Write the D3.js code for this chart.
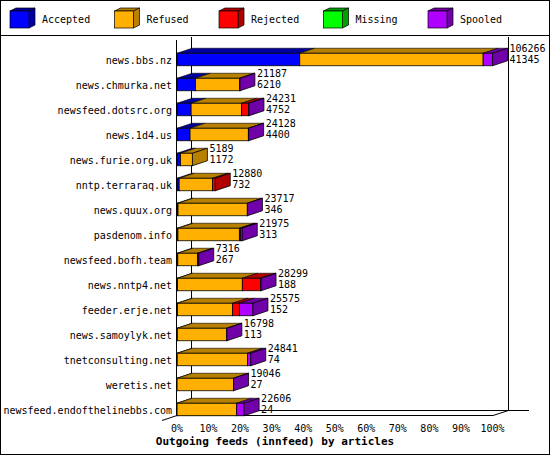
<!DOCTYPE html>
<html><head><meta charset="utf-8">
<script src="https://cdn.jsdelivr.net/npm/d3@7"></script>
<style>body{margin:0;background:#fff}text{font-family:"DejaVu Sans Mono",monospace;font-size:10px}</style>
</head><body><svg id="c" width="550" height="455"></svg>
<script>
const hosts=["news.bbs.nz","news.chmurka.net","newsfeed.dotsrc.org","news.1d4.us","news.furie.org.uk","nntp.terraraq.uk","news.quux.org","pasdenom.info","newsfeed.bofh.team","news.nntp4.net","feeder.erje.net","news.samoylyk.net","tnetconsulting.net","weretis.net","newsfeed.endofthelinebbs.com"];
const offered=[106266,21187,24231,24128,5189,12880,23717,21975,7316,28299,25575,16798,24841,19046,22606];
const accepted=[41345,6210,4752,4400,1172,732,346,313,267,188,152,113,74,27,24];
const refused=[61770,14927,17028,19628,4017,11258,23341,20690,6600,21810,18600,16655,23650,19000,20076];
const rejected=[0,0,2360,0,0,890,0,350,0,6180,2250,0,0,0,0];
const missing=[0,0,0,0,0,0,0,0,0,0,0,0,0,0,0];
const spooled=[3151,50,91,100,0,0,30,622,449,121,4573,30,1117,19,2506];
const seriesNames=["Accepted","Refused","Rejected","Missing","Spooled"];
const ticks=[0,10,20,30,40,50,60,70,80,90,100];
const fronts=["#0000ff","#ffb000","#ff0000","#00ff00","#b000ff"];
const darks=["#0000a0","#b88000","#b00000","#00a000","#7000a8"];
const series=[accepted,refused,rejected,missing,spooled];
const svg=d3.select("#c");
const DX=15,DY=5;
svg.append("rect").attr("x",0.5).attr("y",0.5).attr("width",549).attr("height",454).attr("fill","#fff").attr("stroke","#000");
svg.append("line").attr("x1",0).attr("x2",550).attr("y1",35.5).attr("y2",35.5).attr("stroke","#000");
seriesNames.forEach((n,i)=>{
  const x=10+i*104.5,y=11,w=19,h=17;
  const g=svg.append("g");
  g.append("path").attr("d",`M${x},${y}L${x+6},${y-3}L${x+w+6},${y-3}L${x+w},${y}Z`).attr("fill",darks[i]).attr("stroke","#000").attr("stroke-width",0.7);
  g.append("path").attr("d",`M${x+w},${y}L${x+w+6},${y-3}L${x+w+6},${y+h-3}L${x+w},${y+h}Z`).attr("fill",darks[i]).attr("stroke","#000").attr("stroke-width",0.7);
  g.append("rect").attr("x",x).attr("y",y).attr("width",w).attr("height",h).attr("fill",fronts[i]).attr("stroke","#000").attr("stroke-width",0.7);
  svg.append("text").attr("x",42+i*104.5).attr("y",23).text(n);
});
const maxV=d3.max(offered);
const x=d3.scaleLinear().domain([0,maxV]).range([177,492.5]);
const y=d3.scaleBand().domain(hosts).range([47,422]).paddingInner(0.5).paddingOuter(0.25);
const ax=svg.append("g").attr("stroke","#000").attr("fill","none");
ax.append("path").attr("d",`M191.5,37V410.5H529M508.5,37V410.5M493,415.5L508.5,410.5M162,420.5L177,415.5M176.5,40V415.5H493`);
svg.append("g").selectAll("text").data(ticks).join("text")
  .attr("x",d=>x(d/100*maxV)).attr("y",432).attr("text-anchor","middle").text(d=>d+"%");
svg.append("text").attr("x",275).attr("y",445).attr("text-anchor","middle").attr("font-weight","bold").style("font-size","11px").text("Outgoing feeds (innfeed) by articles");
hosts.forEach((h,r)=>{
  const y0=y(h),bh=y.bandwidth();
  let cum=0,last=0;
  const g=svg.append("g");
  series.forEach((s,k)=>{
    const v=s[r]; if(v<=0)return;
    const x0=x(cum),x1=x(cum+v);
    g.append("path").attr("d",`M${x0},${y0}L${x0+DX},${y0-DY}L${x1+DX},${y0-DY}L${x1},${y0}Z`).attr("fill",darks[k]).attr("stroke","#000").attr("stroke-width",0.6);
    g.append("rect").attr("x",x0).attr("y",y0).attr("width",x1-x0).attr("height",bh).attr("fill",fronts[k]).attr("stroke","#000").attr("stroke-width",0.8);
    cum+=v; last=k;
  });
  const xe=x(cum);
  g.append("path").attr("d",`M${xe},${y0}L${xe+DX},${y0-DY}L${xe+DX},${y0+bh-DY}L${xe},${y0+bh}Z`).attr("fill",darks[last]).attr("stroke","#000").attr("stroke-width",0.8);
  const tx=xe+DX+2;
  svg.append("text").attr("x",tx).attr("y",y0-1).text(offered[r]);
  svg.append("text").attr("x",tx).attr("y",y0+10).text(accepted[r]);
  svg.append("text").attr("x",172).attr("y",y0+bh/2+4).attr("text-anchor","end").text(h);
});
</script></body></html>
